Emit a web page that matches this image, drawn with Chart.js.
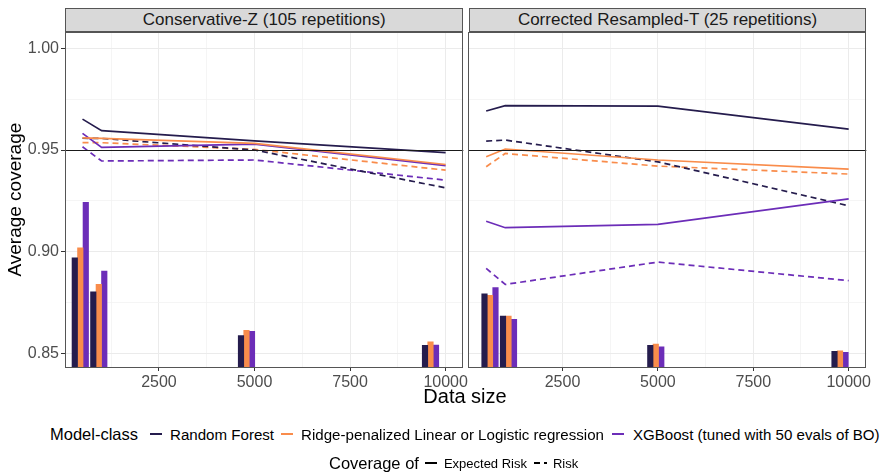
<!DOCTYPE html>
<html><head><meta charset="utf-8">
<script src="https://cdn.jsdelivr.net/npm/chart.js@4.4.1/dist/chart.umd.min.js"></script>
<style>
body{margin:0;width:888px;height:473px;background:#fff;position:relative;overflow:hidden;font-family:"Liberation Sans",Arial,sans-serif;}
canvas{position:absolute;top:0;}
.strip{position:absolute;top:8px;height:24.3px;background:#D9D9D9;border:1px solid #555;box-sizing:border-box;font-size:17px;color:#1A1A1A;text-align:center;line-height:22px;white-space:nowrap;}
.xt{position:absolute;left:365px;width:200px;top:385px;text-align:center;font-size:20px;color:#000;}
.lg{position:absolute;display:flex;align-items:center;white-space:nowrap;color:#000;}
.lt{font-size:16.5px;}
.ll{font-size:15.1px;}
.ls{font-size:13px;}
.k{display:block;}
</style></head>
<body>
<canvas id="cz" width="480" height="400" style="left:0"></canvas>
<canvas id="ct" width="422" height="400" style="left:466px"></canvas>
<div class="strip" style="left:65px;width:398.3px">Conservative-Z (105 repetitions)</div>
<div class="strip" style="left:468.7px;width:397.6px">Corrected Resampled-T (25 repetitions)</div>
<div class="xt">Data size</div>
<div class="lg" style="left:50px;top:424px;height:20px">
  <span class="lt">Model-class</span>
  <svg class="k" width="16" height="16" style="margin-left:10px"><line x1="2" y1="8" x2="14" y2="8" stroke="#251C4D" stroke-width="2"/></svg>
  <span class="ll" style="margin-left:6px">Random Forest</span>
  <svg class="k" width="16" height="16" style="margin-left:5px"><line x1="2" y1="8" x2="14" y2="8" stroke="#F98C4B" stroke-width="2"/></svg>
  <span class="ll" style="margin-left:6px">Ridge-penalized Linear or Logistic regression</span>
  <svg class="k" width="16" height="16" style="margin-left:6px"><line x1="2" y1="8" x2="14" y2="8" stroke="#6C2DB8" stroke-width="2"/></svg>
  <span class="ll" style="margin-left:7px">XGBoost (tuned with 50 evals of BO)</span>
</div>
<div class="lg" style="left:329px;top:453px;height:20px">
  <span class="lt">Coverage of</span>
  <svg class="k" width="16" height="16" style="margin-left:4px"><line x1="2" y1="8" x2="14" y2="8" stroke="#000" stroke-width="2"/></svg>
  <span class="ls" style="margin-left:5px">Expected Risk</span>
  <svg class="k" width="16" height="16" style="margin-left:5px"><line x1="2" y1="8" x2="15" y2="8" stroke="#000" stroke-width="2" stroke-dasharray="6 4"/></svg>
  <span class="ls" style="margin-left:5px">Risk</span>
</div>
<script>
// ---- data ----
const sizes = [500, 1000, 5000, 10000];
const models = ['Random Forest', 'Ridge-penalized Linear or Logistic regression', 'XGBoost (tuned with 50 evals of BO)'];
const panelTitles = ['Conservative-Z (105 repetitions)', 'Corrected Resampled-T (25 repetitions)'];

// Conservative-Z panel
const zBarX = [442, 926, 4790, 9604];
const zBarRF = [0.897, 0.8803, 0.8588, 0.8539];
const zBarRidge = [0.9019, 0.8839, 0.8613, 0.8557];
const zBarXGB = [0.9243, 0.8905, 0.8608, 0.8541];
const zExpRF = [0.9652, 0.9595, 0.9545, 0.9487];
const zRiskRF = [0.9558, 0.9557, 0.9500, 0.9314];
const zExpRidge = [0.9560, 0.9557, 0.9533, 0.9429];
const zRiskRidge = [0.9536, 0.9536, 0.9503, 0.9401];
const zExpXGB = [0.9582, 0.9513, 0.9529, 0.9423];
const zRiskXGB = [0.9516, 0.9446, 0.9451, 0.9352];

// Corrected Resampled-T panel
const tBarX = [600, 1085, 4945, 9773];
const tBarRF = [0.8793, 0.8683, 0.8539, 0.8510];
const tBarRidge = [0.8785, 0.8683, 0.8546, 0.8513];
const tBarXGB = [0.8824, 0.8667, 0.8532, 0.8505];
const tExpRF = [0.9692, 0.9718, 0.9716, 0.9603];
const tRiskRF = [0.9544, 0.9549, 0.9442, 0.9226];
const tExpRidge = [0.9467, 0.9505, 0.9451, 0.9406];
const tRiskRidge = [0.9418, 0.9483, 0.9421, 0.9382];
const tExpXGB = [0.9150, 0.9118, 0.9134, 0.9260];
const tRiskXGB = [0.8918, 0.8839, 0.8949, 0.8858];

const reference = 0.95;
const xTicks = [2500, 5000, 7500, 10000];
const xTickLabels = ['2500', '5000', '7500', '10000'];
const xMinor = [1250, 3750, 6250, 8750];
const yTicks = [0.85, 0.90, 0.95, 1.00];
const yTickLabels = ['0.85', '0.90', '0.95', '1.00'];
const yMinor = [0.875, 0.925, 0.975];

// ---- styling ----
const colors = ['#251C4D', '#F98C4B', '#6C2DB8'];
const X_MIN = 42, X_MAX = 10462, Y_MIN = 0.8433, Y_MAX = 1.0079;
Chart.defaults.font.family = '"Liberation Sans", Arial, sans-serif';

const decor = {
  id: 'decor',
  afterDatasetsDraw(chart) {
    const {ctx, chartArea: a, scales} = chart;
    const yy = Math.round(scales.y.getPixelForValue(reference)) + 0.5;
    ctx.save();
    ctx.strokeStyle = '#1A1A1A'; ctx.lineWidth = 1.1;
    ctx.beginPath(); ctx.moveTo(a.left, yy); ctx.lineTo(a.right, yy); ctx.stroke();
    ctx.strokeStyle = '#555'; ctx.lineWidth = 1;
    ctx.strokeRect(Math.floor(a.left) + 0.5, Math.floor(a.top) + 0.5, Math.round(a.width) - 1, Math.round(a.height));
    ctx.restore();
  }
};

function pts(xs, ys) { return xs.map((x, i) => ({x, y: ys[i]})); }
function lineDs(label, ys, ci, dashed) {
  return {type: 'line', label, data: pts(sizes, ys), borderColor: colors[ci], backgroundColor: colors[ci],
    borderWidth: 1.7, pointRadius: 0, tension: 0, fill: false, borderDash: dashed ? [6, 4] : [], order: 1};
}
function barDs(label, xs, ys, ci) {
  return {type: 'bar', label, data: pts(xs, ys), backgroundColor: colors[ci], borderWidth: 0,
    barThickness: 5.5, order: 2};
}

const gridColor = '#EBEBEB', minorColor = '#F3F3F3';
function tv(c) { return c && c.tick ? c.tick.value : null; }
function makeChart(id, p, showY) {
  const isMajX = v => xTicks.includes(v);
  const isMajY = v => v !== null && yTicks.some(t => Math.abs(t - v) < 1e-9);
  return new Chart(document.getElementById(id), {
    type: 'bar',
    data: {datasets: [
      barDs(models[0], p.barX, p.bar[0], 0),
      barDs(models[1], p.barX, p.bar[1], 1),
      barDs(models[2], p.barX, p.bar[2], 2),
      lineDs(models[0] + ' expected', p.exp[0], 0, false),
      lineDs(models[1] + ' expected', p.exp[1], 1, false),
      lineDs(models[2] + ' expected', p.exp[2], 2, false),
      lineDs(models[0] + ' risk', p.risk[0], 0, true),
      lineDs(models[1] + ' risk', p.risk[1], 1, true),
      lineDs(models[2] + ' risk', p.risk[2], 2, true)
    ]},
    options: {
      responsive: false, animation: false, devicePixelRatio: 1,
      layout: {padding: p.padding},
      plugins: {legend: {display: false}, tooltip: {enabled: false}},
      scales: {
        x: {
          type: 'linear', min: X_MIN, max: X_MAX, offset: false,
          afterBuildTicks: s => { s.ticks = xMinor.concat(xTicks).sort((a, b) => a - b).map(v => ({value: v})); },
          afterFit: s => { s.height = 33; },
          border: {display: false},
          grid: {
            offset: false,
            color: c => isMajX(tv(c)) ? gridColor : minorColor,
            lineWidth: c => isMajX(tv(c)) ? 1 : 0.8,
            tickColor: c => isMajX(tv(c)) ? '#333' : 'rgba(0,0,0,0)',
            tickLength: 4, drawTicks: true
          },
          ticks: {
            autoSkip: false, maxRotation: 0, padding: 2, color: '#4D4D4D', font: {size: 16},
            callback: v => { const i = xTicks.indexOf(v); return i >= 0 ? xTickLabels[i] : ''; }
          }
        },
        y: {
          min: Y_MIN, max: Y_MAX,
          afterBuildTicks: s => { s.ticks = yMinor.concat(yTicks).sort((a, b) => a - b).map(v => ({value: v})); },
          afterFit: s => { s.width = showY ? 65 : 0; },
          border: {display: false},
          title: {display: showY, text: 'Average coverage', color: '#000', font: {size: 19}},
          grid: {
            color: c => isMajY(tv(c)) ? gridColor : minorColor,
            lineWidth: c => isMajY(tv(c)) ? 1 : 0.8,
            tickColor: c => isMajY(tv(c)) ? '#333' : 'rgba(0,0,0,0)',
            tickLength: 4, drawTicks: showY
          },
          ticks: {
            display: showY, autoSkip: false, padding: 2, color: '#4D4D4D', font: {size: 16},
            callback: v => { const i = yTicks.findIndex(t => Math.abs(t - v) < 1e-9); return i >= 0 ? yTickLabels[i] : ''; }
          }
        }
      }
    },
    plugins: [decor]
  });
}

makeChart('cz', {
  barX: zBarX, bar: [zBarRF, zBarRidge, zBarXGB],
  exp: [zExpRF, zExpRidge, zExpXGB], risk: [zRiskRF, zRiskRidge, zRiskXGB],
  padding: {top: 32.3, left: 0, right: 16.7, bottom: 0}
}, true);
makeChart('ct', {
  barX: tBarX, bar: [tBarRF, tBarRidge, tBarXGB],
  exp: [tExpRF, tExpRidge, tExpXGB], risk: [tRiskRF, tRiskRidge, tRiskXGB],
  padding: {top: 32.3, left: 2.7, right: 21.7, bottom: 0}
}, false);
</script>
</body></html>
